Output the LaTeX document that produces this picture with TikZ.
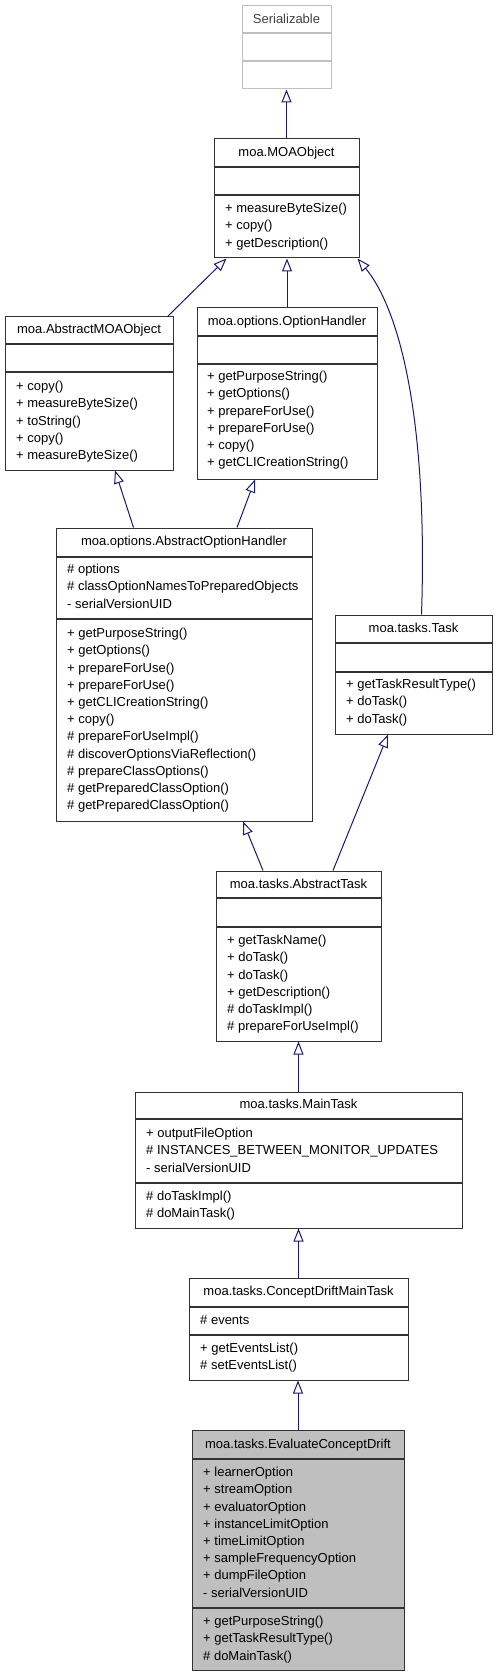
\documentclass[tikz,border=0pt]{standalone}
\usepackage{fontspec}
\setmainfont{Liberation Sans}
\usepackage{xcolor}
\usetikzlibrary{arrows.meta,calc}

\definecolor{edgeblue}{HTML}{191970}
\definecolor{boxgray}{HTML}{BFBFBF}

\begin{document}
\begin{tikzpicture}[
    x=1pt, y=-1pt,
    font=\fontsize{13}{17.2}\selectfont,
    classbox/.style={draw=black!80, line width=1pt, inner sep=0pt},
    title/.style={inner sep=0pt, text height=12pt, text depth=2.6pt},
    members/.style={anchor=north west, align=left, inner sep=0pt},
    divider/.style={draw=black!80, line width=1.2pt},
    inherit/.style={draw=edgeblue, line width=1pt, -{Triangle[open, length=13pt, width=10pt]}}
]
\useasboundingbox (0,0) rectangle (496,1677);

% Serializable (grey interface box)
\node[classbox, draw=boxgray, minimum width=89pt, minimum height=83pt] (ser) at (286.5,47.5) {};
\node[title, text=black!75] (sertitle) at (286.5,19) {Serializable};
\draw[divider, draw=boxgray] (242,33) -- (331,33);
\draw[divider, draw=boxgray] (242,61) -- (331,61);

% moa.MOAObject
\node[classbox, minimum width=145pt, minimum height=119pt] (moa) at (286.5,198.5) {};
\node[title] (moatitle) at (286.5,152) {moa.MOAObject};
\draw[divider] (214,167) -- (359,167);
\draw[divider] (214,195) -- (359,195);
\node[members] (moaops) at (225,203) {+ measureByteSize()\\+ copy()\\+ getDescription()};

% moa.AbstractMOAObject
\node[classbox, minimum width=168pt, minimum height=153pt] (amoa) at (89,393.5) {};
\node[title] (amoatitle) at (89,329) {moa.AbstractMOAObject};
\draw[divider] (5,344) -- (173,344);
\draw[divider] (5,372) -- (173,372);
\node[members] (amoaops) at (16,381) {+ copy()\\+ measureByteSize()\\+ toString()\\+ copy()\\+ measureByteSize()};

% moa.options.OptionHandler
\node[classbox, minimum width=180pt, minimum height=171pt] (oh) at (287,393.5) {};
\node[title] (ohtitle) at (287,321) {moa.options.OptionHandler};
\draw[divider] (197,336) -- (377,336);
\draw[divider] (197,364) -- (377,364);
\node[members] (ohops) at (207,371) {+ getPurposeString()\\+ getOptions()\\+ prepareForUse()\\+ prepareForUse()\\+ copy()\\+ getCLICreationString()};

% moa.options.AbstractOptionHandler
\node[classbox, minimum width=256pt, minimum height=293pt] (aoh) at (184,674.5) {};
\node[title] (aohtitle) at (184,541) {moa.options.AbstractOptionHandler};
\draw[divider] (56,557) -- (312,557);
\draw[divider] (56,619) -- (312,619);
\node[members] (aohattrs) at (67,564) {\# options\\\# classOptionNamesToPreparedObjects\\- serialVersionUID};
\node[members] (aohops) at (67,628) {+ getPurposeString()\\+ getOptions()\\+ prepareForUse()\\+ prepareForUse()\\+ getCLICreationString()\\+ copy()\\\# prepareForUseImpl()\\\# discoverOptionsViaReflection()\\\# prepareClassOptions()\\\# getPreparedClassOption()\\\# getPreparedClassOption()};

% moa.tasks.Task
\node[classbox, minimum width=157pt, minimum height=119pt] (task) at (413.5,674.5) {};
\node[title] (tasktitle) at (413.5,628) {moa.tasks.Task};
\draw[divider] (335,643) -- (492,643);
\draw[divider] (335,672) -- (492,672);
\node[members] (taskops) at (346,679) {+ getTaskResultType()\\+ doTask()\\+ doTask()};

% moa.tasks.AbstractTask
\node[classbox, minimum width=165pt, minimum height=170pt] (at) at (298.5,956) {};
\node[title] (attitle) at (298.5,884) {moa.tasks.AbstractTask};
\draw[divider] (216,898) -- (381,898);
\draw[divider] (216,927) -- (381,927);
\node[members] (atops) at (227,935) {+ getTaskName()\\+ doTask()\\+ doTask()\\+ getDescription()\\\# doTaskImpl()\\\# prepareForUseImpl()};

% moa.tasks.MainTask
\node[classbox, minimum width=327pt, minimum height=136pt] (mt) at (298.5,1160) {};
\node[title] (mttitle) at (298.5,1104) {moa.tasks.MainTask};
\draw[divider] (135,1119) -- (462,1119);
\draw[divider] (135,1183) -- (462,1183);
\node[members] (mtattrs) at (146,1128) {+ outputFileOption\\\# INSTANCES\_BETWEEN\_MONITOR\_UPDATES\\- serialVersionUID};
\node[members] (mtops) at (146,1191) {\# doTaskImpl()\\\# doMainTask()};

% moa.tasks.ConceptDriftMainTask
\node[classbox, minimum width=219pt, minimum height=102pt] (cd) at (298.5,1329) {};
\node[title] (cdtitle) at (298.5,1291) {moa.tasks.ConceptDriftMainTask};
\draw[divider] (189,1307) -- (408,1307);
\draw[divider] (189,1335) -- (408,1335);
\node[members] (cdattrs) at (200,1315) {\# events};
\node[members] (cdops) at (200,1343) {+ getEventsList()\\\# setEventsList()};

% moa.tasks.EvaluateConceptDrift (this class)
\node[classbox, fill=boxgray, minimum width=212pt, minimum height=240pt] (ecd) at (298,1550) {};
\node[title] (ecdtitle) at (298,1444) {moa.tasks.EvaluateConceptDrift};
\draw[divider] (192,1459) -- (404,1459);
\draw[divider] (192,1608) -- (404,1608);
\node[members] (ecdattrs) at (203,1467) {+ learnerOption\\+ streamOption\\+ evaluatorOption\\+ instanceLimitOption\\+ timeLimitOption\\+ sampleFrequencyOption\\+ dumpFileOption\\- serialVersionUID};
\node[members] (ecdops) at (203,1616) {+ getPurposeString()\\+ getTaskResultType()\\\# doMainTask()};

% Inheritance arrows
\draw[inherit] (moa.north) -- (ser.south);
\draw[inherit] ($(amoa.north east)+(-6,0)$) -- ($(moa.south west)+(13,0)$);
\draw[inherit] (oh.north) -- (oh.north |- moa.south);
\draw[inherit] ($(task.north)+(8,0)$) .. controls (428,420) and (400,310) .. ($(moa.south east)+(-2,0)$);
\draw[inherit] ($(aoh.north west)+(78,0)$) -- ($(amoa.south)+(26,0)$);
\draw[inherit] ($(aoh.north)+(53,0)$) -- ($(oh.south)+(-32,0)$);
\draw[inherit] ($(at.north)+(-35.5,0)$) -- ($(aoh.south)+(59,0)$);
\draw[inherit] ($(at.north)+(34.5,0)$) -- ($(task.south)+(-25.5,0)$);
\draw[inherit] (mt.north) -- (at.south);
\draw[inherit] (cd.north) -- (mt.south);
\draw[inherit] (ecd.north) -- (ecd.north |- cd.south);

\end{tikzpicture}
\end{document}
